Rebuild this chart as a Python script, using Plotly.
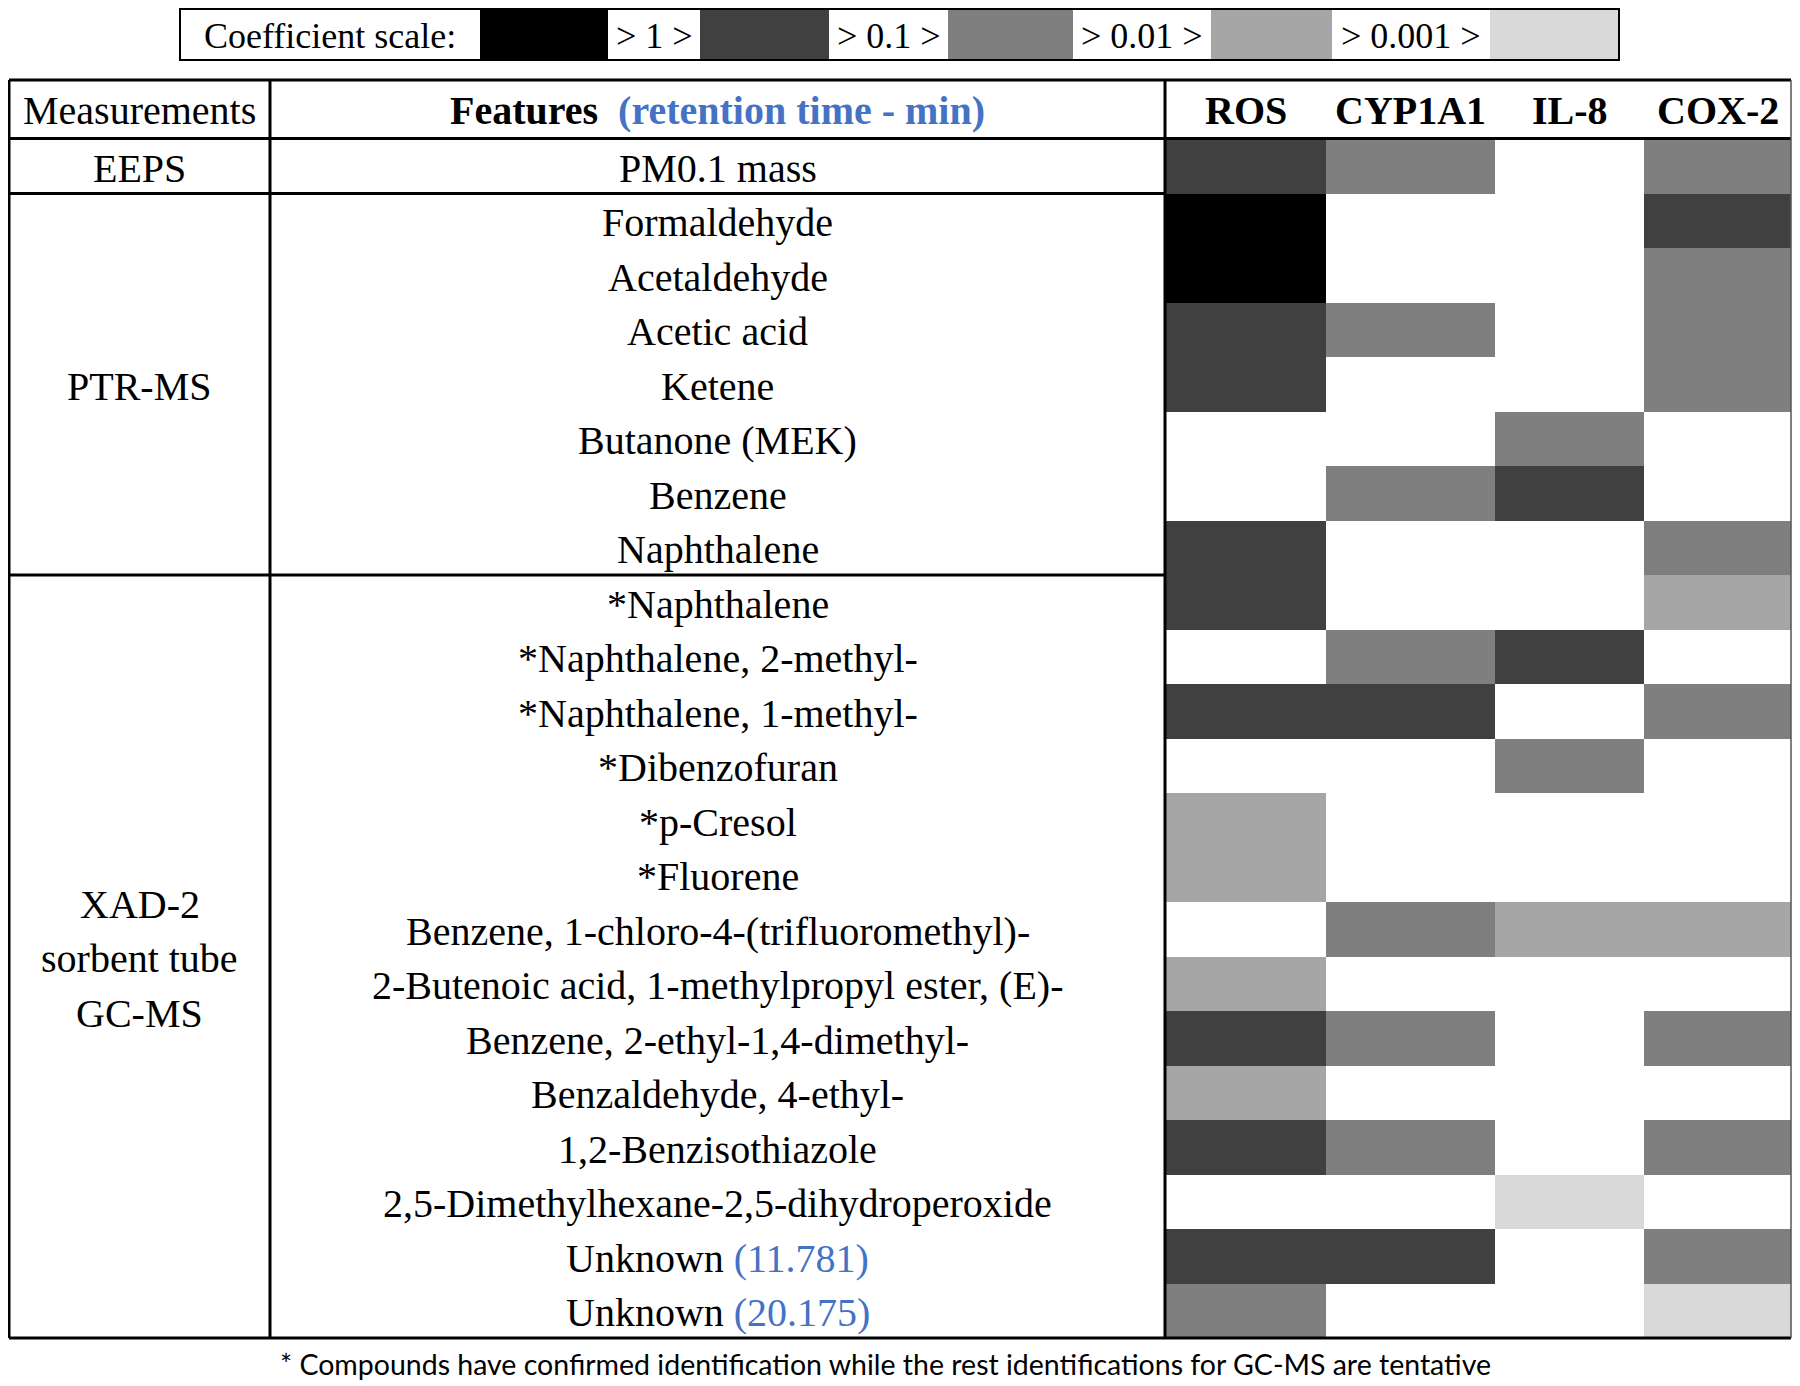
import plotly.graph_objects as go

# ---- data -------------------------------------------------------------
# coefficient class per cell: 0 = none, 1 = >1, 2 = 0.1-1, 3 = 0.01-0.1, 4 = 0.001-0.01, 5 = <0.001
targets = ['ROS', 'CYP1A1', 'IL-8', 'COX-2']

features = [
    'PM0.1 mass',
    'Formaldehyde', 'Acetaldehyde', 'Acetic acid', 'Ketene',
    'Butanone (MEK)', 'Benzene', 'Naphthalene',
    '*Naphthalene', '*Naphthalene, 2-methyl-', '*Naphthalene, 1-methyl-',
    '*Dibenzofuran', '*p-Cresol', '*Fluorene',
    'Benzene, 1-chloro-4-(trifluoromethyl)-',
    '2-Butenoic acid, 1-methylpropyl ester, (E)-',
    'Benzene, 2-ethyl-1,4-dimethyl-', 'Benzaldehyde, 4-ethyl-',
    '1,2-Benzisothiazole', '2,5-Dimethylhexane-2,5-dihydroperoxide',
    'Unknown', 'Unknown',
]
retention_times = [''] * 20 + ['11.781', '20.175']

measurements = ['EEPS', 'PTR-MS', 'XAD-2<br>sorbent tube<br>GC-MS']
group_sizes = [1, 7, 14]

ros    = [2, 1, 1, 2, 2, 0, 0, 2, 2, 0, 2, 0, 4, 4, 0, 4, 2, 4, 2, 0, 2, 3]
cyp1a1 = [3, 0, 0, 3, 0, 0, 3, 0, 0, 3, 2, 0, 0, 0, 3, 0, 3, 0, 3, 0, 2, 0]
il8    = [0, 0, 0, 0, 0, 3, 2, 0, 0, 2, 0, 3, 0, 0, 4, 0, 0, 0, 0, 5, 0, 0]
cox2   = [3, 2, 3, 3, 3, 0, 0, 3, 4, 0, 3, 0, 0, 0, 4, 0, 3, 0, 3, 0, 3, 5]

scale_levels = [1, 2, 3, 4, 5]
scale_labels = ['> 1 >', '> 0.1 >', '> 0.01 >', '> 0.001 >']

# ---- layout constants (page pixels) ----------------------------------
W, H = 1800, 1386
OFF = 8  # page body margin
col_x = [9, 270, 1165, 1326, 1495, 1644, 1791]
table_top, header_bottom, row_h = 80, 139, 54.5
legend_x = [180, 480, 608, 700, 829, 948, 1073, 1211, 1332, 1490, 1619]
legend_y = [9, 60]

serif = 'Liberation Serif'
blue = '#4472C4'
greys = ['#ffffff', '#000000', '#404040', '#7f7f7f', '#a6a6a6', '#d9d9d9']

colorscale = []
for i, c in enumerate(greys):
    colorscale.append([i / len(greys), c])
    colorscale.append([(i + 1) / len(greys), c])

n_rows = len(features)
row_edges = [header_bottom + i * row_h for i in range(n_rows + 1)]
row_mid = [(row_edges[i] + row_edges[i + 1]) / 2 for i in range(n_rows)]

z = [list(r) for r in zip(ros, cyp1a1, il8, cox2)]

fig = go.Figure()
fig.add_trace(go.Heatmap(
    x=col_x[2:], y=row_edges, z=z,
    colorscale=colorscale, zmin=-0.5, zmax=len(greys) - 0.5,
    showscale=False, hoverinfo='skip'))

# coefficient scale strip: white label cells between the grey swatches
legend_z = [0]
for lv in scale_levels:
    legend_z += [lv, 0]
legend_z = [legend_z[:-1]]
fig.add_trace(go.Heatmap(
    x=legend_x, y=legend_y, z=legend_z,
    colorscale=colorscale, zmin=-0.5, zmax=len(greys) - 0.5,
    showscale=False, hoverinfo='skip'))

ann = []
def txt(x, y, t, size=40, **kw):
    ann.append(dict(x=x, y=y, text=t, showarrow=False, xanchor='center',
                    yanchor='middle', font=dict(family=serif, size=size, color='black'), **kw))

# legend texts
txt((legend_x[0] + legend_x[1]) / 2, 36, 'Coefficient scale:', size=36)
for i, lab in enumerate(scale_labels):
    k = 2 + 2 * i
    txt((legend_x[k] + legend_x[k + 1]) / 2, 36, lab, size=36)

# header
hy = (table_top + header_bottom) / 2 + 1
txt((col_x[0] + col_x[1]) / 2, hy, 'Measurements')
txt((col_x[1] + col_x[2]) / 2, hy,
    '<b>Features</b>&nbsp; <b><span style="color:%s">(retention time - min)</span></b>' % blue)
for j, t in enumerate(targets):
    txt((col_x[2 + j] + col_x[3 + j]) / 2, hy, '<b>%s</b>' % t)

# features
for i, f in enumerate(features):
    label = f
    if retention_times[i]:
        label += ' <span style="color:%s">(%s)</span>' % (blue, retention_times[i])
    txt((col_x[1] + col_x[2]) / 2, row_mid[i] + 2, label)

# measurement groups (multi-line labels spaced one row apart)
shapes = []
start = 0
for m, n in zip(measurements, group_sizes):
    y0, y1 = row_edges[start], row_edges[start + n]
    parts = m.split('<br>')
    yc = (y0 + y1) / 2 + 2
    for k, p in enumerate(parts):
        txt((col_x[0] + col_x[1]) / 2, yc + (k - (len(parts) - 1) / 2) * row_h, p)
    if start + n < n_rows:
        shapes.append(dict(type='line', x0=col_x[0], x1=col_x[2], y0=y1, y1=y1,
                           line=dict(color='black', width=3)))
    start += n

# footnote
ann.append(dict(x=885, y=1364, showarrow=False, xanchor='center', yanchor='middle',
                text='* Compounds have confirmed identification while the rest identifications for GC-MS are tentative',
                font=dict(family='Lato', size=28.5, color='black')))

def line(x0, y0, x1, y1, w=3, c='black'):
    shapes.append(dict(type='line', x0=x0, y0=y0, x1=x1, y1=y1, line=dict(color=c, width=w)))

bottom = row_edges[-1]
line(col_x[0], table_top, col_x[-1], table_top)
line(col_x[0], header_bottom - 0.5, col_x[-1], header_bottom - 0.5)
line(col_x[0], bottom, col_x[-1], bottom)
line(col_x[0], table_top, col_x[0], bottom)
line(col_x[1], table_top, col_x[1], bottom)
line(col_x[2], table_top, col_x[2], bottom)
line(col_x[-1], table_top, col_x[-1], bottom, w=1.5, c='#555555')

shapes.append(dict(type='rect', x0=legend_x[0], x1=legend_x[-1], y0=legend_y[0], y1=legend_y[1],
                   line=dict(color='black', width=2)))

fig.update_layout(
    width=W, height=H,
    margin=dict(l=0, r=0, t=0, b=0),
    paper_bgcolor='white', plot_bgcolor='white',
    xaxis=dict(range=[OFF, W + OFF], visible=False, fixedrange=True),
    yaxis=dict(range=[H + OFF, OFF], visible=False, fixedrange=True),
    annotations=ann, shapes=shapes,
    showlegend=False,
)

fig.write_html('out.html')
